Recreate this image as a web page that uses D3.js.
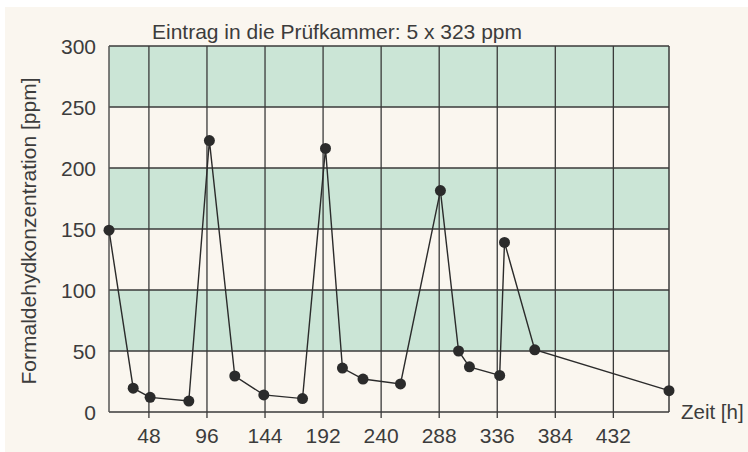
<!DOCTYPE html>
<html>
<head>
<meta charset="utf-8">
<script src="https://cdn.jsdelivr.net/npm/d3@7"></script>
<style>
    body { margin: 0; background: #ffffff; }
    #chart { width: 748px; height: 452px; }
    text { font-family: "Liberation Sans", Arial, sans-serif; fill: #3c3c3c; }
</style>
</head>
<body>
<div id="chart"></div>
<script>
// data
const hours = [15, 35, 49, 81, 98, 119, 143, 175, 194, 208, 225, 256, 289, 304, 313, 338, 342, 367, 478];
const ppm = [149, 19.5, 12, 9, 222.5, 29.5, 14, 11, 216, 36, 27, 23, 181.5, 50, 37, 30, 139, 51, 17.5];
const xTicks = [48, 96, 144, 192, 240, 288, 336, 384, 432];
const yTicks = [0, 50, 100, 150, 200, 250, 300];
const bands = [[50, 100], [150, 200], [250, 300]];
const title = "Eintrag in die Prüfkammer: 5 x 323 ppm";
const yLabel = "Formaldehydkonzentration [ppm]";
const xLabel = "Zeit [h]";

const margin = {top: 46, right: 79, bottom: 40, left: 109};
const totalW = 748, totalH = 452;
const width = totalW - margin.left - margin.right;
const height = totalH - margin.top - margin.bottom;

const root = d3.select("#chart").append("svg")
    .attr("width", totalW)
    .attr("height", totalH);

// cream panel
root.append("rect")
    .attr("x", 5).attr("y", 7)
    .attr("width", totalW - 5).attr("height", totalH - 7)
    .attr("fill", "#faf6ef");

const svg = root.append("g")
    .attr("transform", `translate(${margin.left}, ${margin.top})`);

const x = d3.scaleLinear().domain([15, 478]).range([0, width]);
const y = d3.scaleLinear().domain([0, 300]).range([height, 0]);

// green bands
svg.selectAll(".band")
    .data(bands)
    .enter()
    .append("rect")
    .attr("class", "band")
    .attr("x", 0)
    .attr("y", d => y(d[1]))
    .attr("width", width)
    .attr("height", d => y(d[0]) - y(d[1]))
    .attr("fill", "#cbe5d6");

// horizontal grid
svg.selectAll(".hgrid")
    .data(yTicks)
    .enter()
    .append("line")
    .attr("x1", 0).attr("x2", width)
    .attr("y1", d => y(d)).attr("y2", d => y(d))
    .attr("stroke", "#3a3a3a")
    .attr("stroke-width", 1.3);

// vertical grid, with small ticks below the axis
svg.selectAll(".vgrid")
    .data(xTicks)
    .enter()
    .append("line")
    .attr("x1", d => x(d)).attr("x2", d => x(d))
    .attr("y1", 0).attr("y2", height + 6)
    .attr("stroke", "#3a3a3a")
    .attr("stroke-width", 1.3);

// frame sides
svg.append("line")
    .attr("x1", 0).attr("x2", 0).attr("y1", 0).attr("y2", height)
    .attr("stroke", "#555").attr("stroke-width", 1.5);
svg.append("line")
    .attr("x1", width).attr("x2", width).attr("y1", 0).attr("y2", height)
    .attr("stroke", "#3a3a3a").attr("stroke-width", 1.5);

// axis labels
svg.selectAll(".ylab")
    .data(yTicks)
    .enter()
    .append("text")
    .attr("x", -13)
    .attr("y", d => y(d))
    .attr("dy", "0.36em")
    .attr("text-anchor", "end")
    .style("font-size", "21px")
    .text(d => d);

svg.selectAll(".xlab")
    .data(xTicks)
    .enter()
    .append("text")
    .attr("x", d => x(d))
    .attr("y", height + 31)
    .attr("text-anchor", "middle")
    .style("font-size", "21px")
    .text(d => d);

svg.append("text")
    .attr("x", width + 12)
    .attr("y", height + 7)
    .style("font-size", "20.5px")
    .text(xLabel);

svg.append("text")
    .attr("transform", `translate(${-73}, ${185}) rotate(-90)`)
    .attr("text-anchor", "middle")
    .style("font-size", "21px")
    .text(yLabel);

svg.append("text")
    .attr("x", 228)
    .attr("y", -7)
    .attr("text-anchor", "middle")
    .style("font-size", "21px")
    .text(title);

// data line and dots
const pts = hours.map((h, i) => ({h: h, v: ppm[i]}));

svg.append("path")
    .datum(pts)
    .attr("fill", "none")
    .attr("stroke", "#2b2b2b")
    .attr("stroke-width", 1.4)
    .attr("d", d3.line().x(d => x(d.h)).y(d => y(d.v)));

svg.selectAll(".dot")
    .data(pts)
    .enter()
    .append("circle")
    .attr("cx", d => x(d.h))
    .attr("cy", d => y(d.v))
    .attr("r", 5.5)
    .attr("fill", "#2b2b2b");
</script>
</body>
</html>
